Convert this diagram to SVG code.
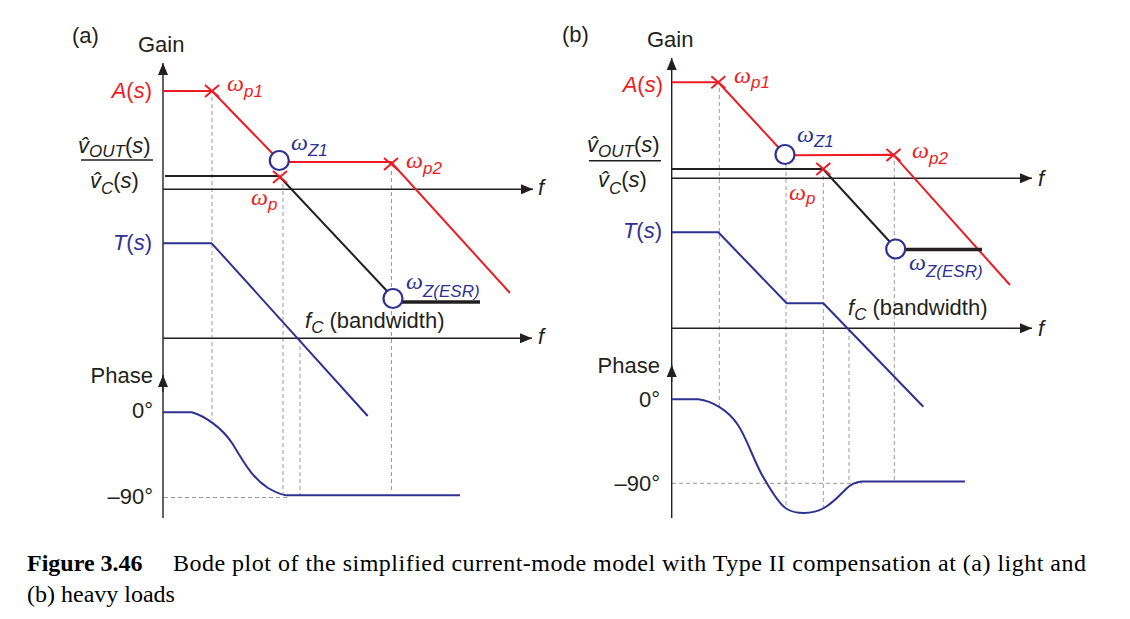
<svg xmlns="http://www.w3.org/2000/svg" width="1130" height="619" viewBox="0 0 1130 619">
<style>
text{font-family:"Liberation Sans",Arial,sans-serif;font-size:22px;fill:#231f20}
.it{font-style:italic}
.sub{font-size:17px;font-style:italic;font-family:"Liberation Sans",Arial,sans-serif}
.om{font-family:"Liberation Serif","Times New Roman",serif;font-style:italic;font-size:24px}
.red{fill:#ed1c24}
.blu{fill:#2e3192}
.axis{stroke:#231f20;stroke-width:1.4;fill:none}
.dash{stroke:#9a9a9a;stroke-width:1;stroke-dasharray:4 3;fill:none}
.rl{stroke:#ed1c24;stroke-width:2;fill:none}
.bl{stroke:#231f20;stroke-width:2;fill:none}
.bk{stroke:#231f20;stroke-width:3.5;fill:none}
.bu{stroke:#2e3192;stroke-width:2;fill:none;stroke-linejoin:round}
.zero{stroke:#2e3192;stroke-width:2.2;fill:#fff}
.cap{font-family:"Liberation Serif","Times New Roman",serif;font-size:24px;fill:#000}
</style>
<defs>
<marker id="arr" viewBox="0 0 12 10" refX="12" refY="5" markerWidth="12" markerHeight="10" markerUnits="userSpaceOnUse" orient="auto">
<path d="M0,0 L12,5 L0,10 z" fill="#231f20"/>
</marker>
<path id="cross" d="M-7,-6 L7,6 M-7,6 L7,-6" stroke="#ed1c24" stroke-width="2" fill="none"/>
</defs>

<!-- Panel (a) -->
<g id="panel-a">
<text x="72" y="43">(a)</text>
<g id="a-guides">
<line class="dash" x1="212" y1="97" x2="212" y2="420"/>
<line class="dash" x1="283" y1="184" x2="283" y2="495"/>
<line class="dash" x1="300" y1="339" x2="300" y2="495"/>
<line class="dash" x1="391.5" y1="171" x2="391.5" y2="492"/>
<line class="dash" x1="164" y1="497.5" x2="290" y2="497.5"/>
</g>
<g id="a-axes">
<line class="axis" x1="163" y1="518" x2="163" y2="63" marker-end="url(#arr)"/>
<line class="axis" x1="163" y1="392" x2="163" y2="375" marker-end="url(#arr)"/>
<line class="axis" x1="163" y1="189.3" x2="533" y2="189.3" marker-end="url(#arr)"/>
<line class="axis" x1="163" y1="338.3" x2="532" y2="338.3" marker-end="url(#arr)"/>
<text x="138" y="52">Gain</text>
<text x="153" y="383" text-anchor="end">Phase</text>
<text x="153" y="418" text-anchor="end">0°</text>
<text x="153" y="504" text-anchor="end">–90°</text>
<text class="it" x="538" y="195">f</text>
<text class="it" x="538" y="344">f</text>
</g>
<g id="a-A">
<polyline class="rl" points="163,91 212,91 273,154"/>
<polyline class="rl" points="288,162 391,162 510,293"/>
<use href="#cross" x="212" y="91"/>
<use href="#cross" x="391" y="164"/>
<text class="red" x="152" y="98" text-anchor="end"><tspan class="it">A</tspan>(<tspan class="it">s</tspan>)</text>
<text class="om red" x="227" y="91">ω<tspan class="sub" dy="6">p1</tspan></text>
<text class="om red" x="406" y="168">ω<tspan class="sub" dy="6">p2</tspan></text>
</g>
<g id="a-plant">
<line class="bl" x1="165" y1="176" x2="279" y2="176"/>
<line class="bl" x1="279" y1="176" x2="387" y2="291"/>
<line class="bk" x1="401" y1="302" x2="480" y2="302"/>
<use href="#cross" x="280" y="177"/>
<text class="om red" x="251" y="205">ω<tspan class="sub" dy="5">p</tspan></text>
<text x="78" y="153"><tspan class="it">v̂</tspan><tspan class="sub" dy="4">OUT</tspan><tspan dy="-4">(</tspan><tspan class="it">s</tspan>)</text>
<line x1="81" y1="160" x2="153" y2="160" stroke="#231f20" stroke-width="1.4"/>
<text x="90" y="188"><tspan class="it">v̂</tspan><tspan class="sub" dy="6">C</tspan><tspan dy="-6">(</tspan><tspan class="it">s</tspan>)</text>
</g>
<g id="a-zeros">
<circle class="zero" cx="279.3" cy="160.5" r="9.5"/>
<circle class="zero" cx="393" cy="298.5" r="9.5"/>
<text class="om blu" x="291" y="150">ω<tspan class="sub" dy="6">Z1</tspan></text>
<text class="om blu" x="406" y="289">ω<tspan class="sub" dy="8">Z(ESR)</tspan></text>
</g>
<g id="a-T">
<polyline class="bu" points="163,243.3 211.7,243.3 367.7,416"/>
<text class="blu" x="152" y="250" text-anchor="end"><tspan class="it">T</tspan>(<tspan class="it">s</tspan>)</text>
<text x="305" y="328"><tspan class="it">f</tspan><tspan class="sub" dy="5">C</tspan><tspan dy="-5"> (bandwidth)</tspan></text>
</g>
<g id="a-phase">
<path class="bu" d="M163,412.3 H191.7 C205,416 222,428 232,443 C244,462 252,478 268,488 C275,492 280,494.5 286,495.3 H460"/>
</g>
</g>

<!-- Panel (b) -->
<g id="panel-b">
<text x="562" y="42">(b)</text>
<g id="b-guides">
<line class="dash" x1="719.3" y1="88" x2="719.3" y2="408"/>
<line class="dash" x1="786" y1="165" x2="786" y2="507"/>
<line class="dash" x1="823.3" y1="176" x2="823.3" y2="509"/>
<line class="dash" x1="849" y1="329" x2="849" y2="484"/>
<line class="dash" x1="894.3" y1="161" x2="894.3" y2="483"/>
<line class="dash" x1="672" y1="483.3" x2="862" y2="483.3"/>
</g>
<g id="b-axes">
<line class="axis" x1="671.7" y1="518" x2="671.7" y2="58" marker-end="url(#arr)"/>
<line class="axis" x1="671.7" y1="382" x2="671.7" y2="365" marker-end="url(#arr)"/>
<line class="axis" x1="672" y1="178.3" x2="1032" y2="178.3" marker-end="url(#arr)"/>
<line class="axis" x1="672" y1="328.3" x2="1032" y2="328.3" marker-end="url(#arr)"/>
<text x="647" y="47">Gain</text>
<text x="660" y="373" text-anchor="end">Phase</text>
<text x="660" y="407" text-anchor="end">0°</text>
<text x="660" y="491" text-anchor="end">–90°</text>
<text class="it" x="1038" y="186">f</text>
<text class="it" x="1038" y="336">f</text>
</g>
<g id="b-A">
<polyline class="rl" points="672,82.3 718.3,82.3 779,148"/>
<polyline class="rl" points="794,155.3 893.3,154.7 1010,285"/>
<use href="#cross" x="718.3" y="82.3"/>
<use href="#cross" x="893.5" y="155"/>
<text class="red" x="663" y="91.5" text-anchor="end"><tspan class="it">A</tspan>(<tspan class="it">s</tspan>)</text>
<text class="om red" x="734" y="83">ω<tspan class="sub" dy="5">p1</tspan></text>
<text class="om red" x="912" y="158">ω<tspan class="sub" dy="6">p2</tspan></text>
</g>
<g id="b-plant">
<line class="bl" x1="672" y1="169" x2="823" y2="169" stroke-width="2.6"/>
<line class="bl" x1="823" y1="169" x2="890" y2="242"/>
<line class="bk" x1="905" y1="249.5" x2="982" y2="249.5"/>
<use href="#cross" x="823.3" y="169"/>
<text class="om red" x="789" y="200">ω<tspan class="sub" dy="4">p</tspan></text>
<text x="587" y="152"><tspan class="it">v̂</tspan><tspan class="sub" dy="5">OUT</tspan><tspan dy="-5">(</tspan><tspan class="it">s</tspan>)</text>
<line x1="589" y1="160.7" x2="661" y2="160.7" stroke="#231f20" stroke-width="1.4"/>
<text x="598" y="187"><tspan class="it">v̂</tspan><tspan class="sub" dy="7">C</tspan><tspan dy="-7">(</tspan><tspan class="it">s</tspan>)</text>
</g>
<g id="b-zeros">
<circle class="zero" cx="785" cy="154.5" r="9.5"/>
<circle class="zero" cx="895.7" cy="249" r="9.5"/>
<text class="om blu" x="797" y="141.5">ω<tspan class="sub" dy="5">Z1</tspan></text>
<text class="om blu" x="909" y="270">ω<tspan class="sub" dy="7">Z(ESR)</tspan></text>
</g>
<g id="b-T">
<polyline class="bu" points="672,232.3 718.3,232.3 786.7,303.3 823.3,303.3 923.3,406.7"/>
<text class="blu" x="662" y="238" text-anchor="end"><tspan class="it">T</tspan>(<tspan class="it">s</tspan>)</text>
<text x="848" y="315"><tspan class="it">f</tspan><tspan class="sub" dy="5">C</tspan><tspan dy="-5"> (bandwidth)</tspan></text>
</g>
<g id="b-phase">
<path class="bu" d="M672,399.3 H698.3 C712,401 728,410 738,425 C748,440 755,465 765,480 C773,494 780,505 787,509 C795,514 812,515 824,508 C833,503 840,495 846,489 C851,484 855,482 862,481.5 H965"/>
</g>
</g>

<g id="caption">
<text class="cap" x="27" y="571" font-weight="bold" font-size="25">Figure 3.46</text>
<text class="cap" x="173" y="571" textLength="913" lengthAdjust="spacing">Bode plot of the simplified current-mode model with Type II compensation at (a) light and</text>
<text class="cap" x="27" y="601.5">(b) heavy loads</text>
</g>
</svg>
